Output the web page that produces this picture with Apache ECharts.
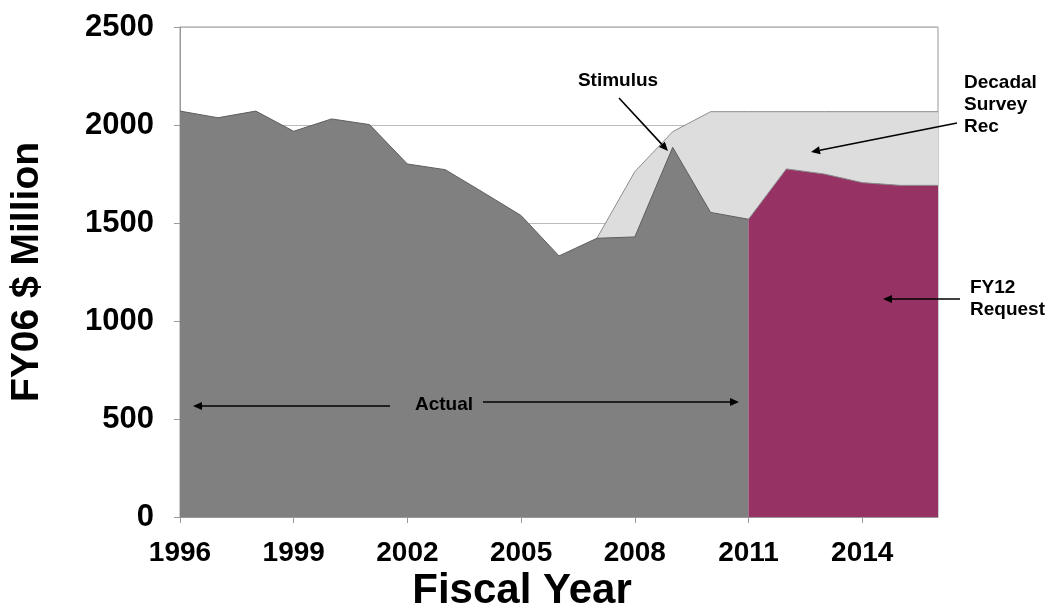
<!DOCTYPE html>
<html>
<head>
<meta charset="utf-8">
<script src="https://cdn.jsdelivr.net/npm/echarts@6/dist/echarts.min.js"></script>
<style>
  html, body { margin: 0; padding: 0; background: #fff; }
  #chart { width: 1049px; height: 609px; }
</style>
</head>
<body>
<div id="chart"></div>
<script>
// Earth science budget, FY06 $ million
const actualYears = [1996, 1997, 1998, 1999, 2000, 2001, 2002, 2003, 2004, 2005, 2006, 2007, 2008, 2009, 2010, 2011];
const actualValues = [2071, 2037, 2071, 1968, 2031, 2002, 1801, 1772, 1656, 1538, 1332, 1422, 1429, 1886, 1554, 1519];

const requestYears = [2011, 2012, 2013, 2014, 2015, 2016];
const requestValues = [1519, 1776, 1750, 1706, 1692, 1692];

const decadalYears = [2007, 2008, 2009, 2010, 2011, 2012, 2013, 2014, 2015, 2016];
const decadalValues = [1422, 1762, 1966, 2068, 2068, 2068, 2068, 2068, 2068, 2068];

const xTickLabels = [1996, 1999, 2002, 2005, 2008, 2011, 2014];
const yTickLabels = [0, 500, 1000, 1500, 2000, 2500];

const FONT = '"Liberation Sans", Arial, sans-serif';

function pairs(xs, ys) {
  return xs.map((x, i) => [x, ys[i]]);
}

// Straight arrow with a filled head at (x2, y2)
function arrow(x1, y1, x2, y2) {
  const len = Math.hypot(x2 - x1, y2 - y1);
  const dx = (x2 - x1) / len, dy = (y2 - y1) / len;
  const hl = 9, hw = 4;
  const bx = x2 - dx * hl, by = y2 - dy * hl;
  return {
    type: 'group',
    z: 100,
    children: [
      {
        type: 'line',
        z: 100,
        shape: { x1: x1, y1: y1, x2: bx, y2: by },
        style: { stroke: '#000', lineWidth: 1.6 }
      },
      {
        type: 'polygon',
        z: 100,
        shape: { points: [[x2, y2], [bx - dy * hw, by + dx * hw], [bx + dy * hw, by - dx * hw]] },
        style: { fill: '#000' }
      }
    ]
  };
}

function label(text, x, y, align, size) {
  return {
    type: 'text',
    z: 100,
    style: {
      text: text, x: x, y: y,
      font: 'bold ' + (size || 19) + 'px ' + FONT,
      fill: '#000',
      align: align || 'left',
      verticalAlign: 'middle',
      lineHeight: 22
    }
  };
}

const chart = echarts.init(document.getElementById('chart'), null, { renderer: 'canvas' });

chart.setOption({
  animation: false,
  backgroundColor: '#fff',
  grid: {
    left: 179, right: 111, top: 27, bottom: 92,
    show: true, borderColor: '#999', borderWidth: 1, backgroundColor: 'transparent'
  },
  xAxis: {
    type: 'value',
    min: 1996, max: 2016, interval: 3,
    axisLine: { show: true, lineStyle: { color: '#999', width: 1 } },
    axisTick: { show: true, length: 6, lineStyle: { color: '#999' }, customValues: xTickLabels },
    axisLabel: {
      customValues: xTickLabels,
      fontFamily: FONT, fontWeight: 'bold', fontSize: 28, color: '#000', margin: 22,
      formatter: v => String(v)
    },
    splitLine: { show: false }
  },
  yAxis: {
    type: 'value',
    min: 0, max: 2500, interval: 500,
    name: 'FY06 $ Million',
    nameLocation: 'middle',
    nameGap: 133,
    nameTextStyle: { fontFamily: FONT, fontWeight: 'bold', fontSize: 39, color: '#000' },
    axisLine: { show: true, lineStyle: { color: '#999', width: 1 } },
    axisTick: { show: true, length: 6, lineStyle: { color: '#999' } },
    axisLabel: {
      fontFamily: FONT, fontWeight: 'bold', fontSize: 31, color: '#000', margin: 26,
      formatter: v => yTickLabels.includes(v) ? String(v) : ''
    },
    splitLine: { show: true, lineStyle: { color: '#bbb', width: 1 } }
  },
  series: [
    {
      name: 'Decadal Survey Rec',
      type: 'line',
      data: pairs(decadalYears, decadalValues),
      symbol: 'none',
      lineStyle: { color: '#8c8c8c', width: 1 },
      areaStyle: { color: '#dddddd', opacity: 1 },
      z: 2
    },
    {
      name: 'Actual',
      type: 'line',
      data: pairs(actualYears, actualValues),
      symbol: 'none',
      lineStyle: { color: '#5e5e5e', width: 1 },
      areaStyle: { color: '#808080', opacity: 1 },
      z: 3
    },
    {
      name: 'FY12 Request',
      type: 'line',
      data: pairs(requestYears, requestValues),
      symbol: 'none',
      lineStyle: { color: '#8a8a8a', width: 1 },
      areaStyle: { color: '#973264', opacity: 1 },
      z: 4
    }
  ],
  graphic: [
    label('Fiscal Year', 522, 591, 'center', 42),
    label('Stimulus', 618, 81, 'center'),
    arrow(619, 98, 668, 151),
    label('Decadal\nSurvey\nRec', 964, 105, 'left'),
    arrow(957, 123, 811, 152),
    label('FY12\nRequest', 970, 299, 'left'),
    arrow(960, 299, 883, 299),
    label('Actual', 444, 405, 'center'),
    arrow(390, 406, 193, 406),
    arrow(483, 402, 739, 402)
  ]
});
</script>
</body>
</html>
